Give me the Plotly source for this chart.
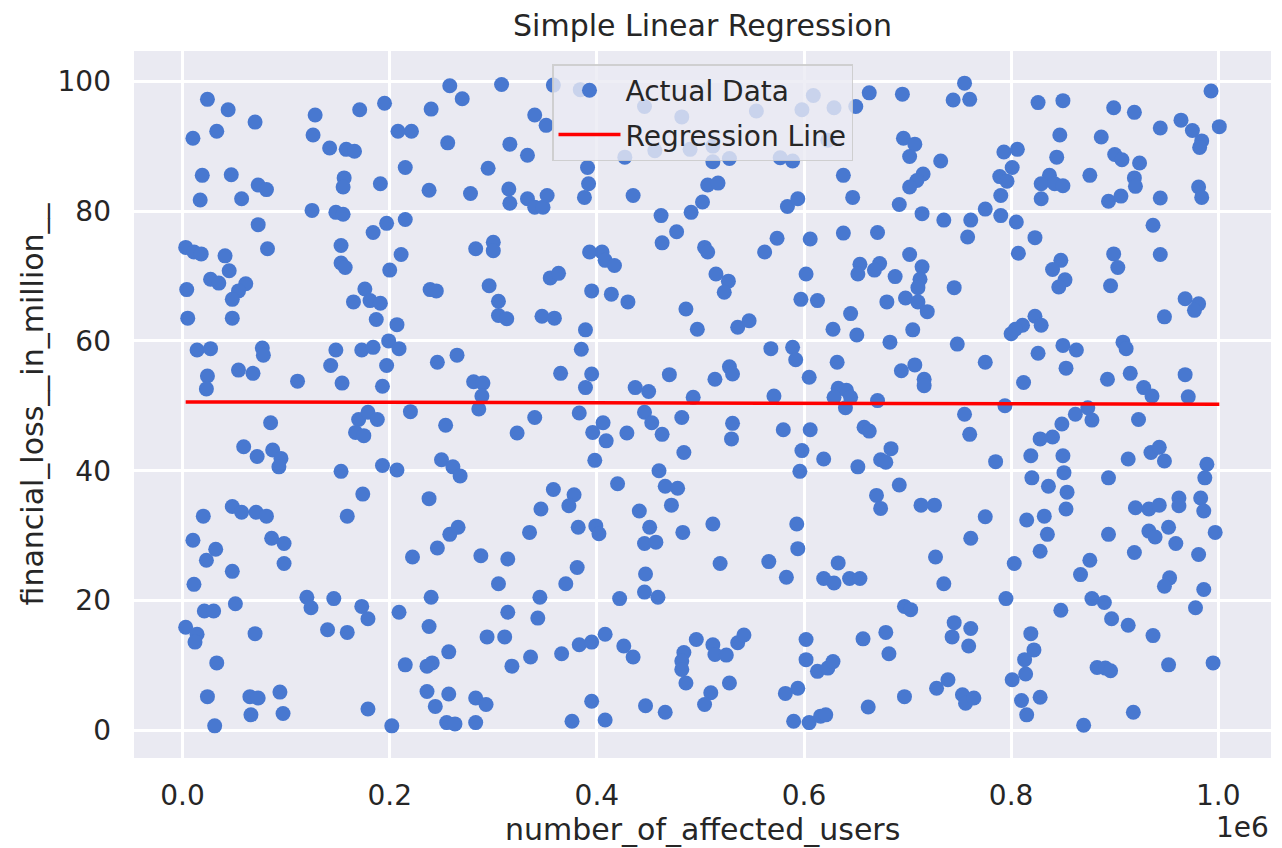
import numpy as np
import plotly.graph_objects as go

# number_of_affected_users in units of 1e6, financial_loss__in_million__
users_e6 = [
    0.024,0.044,0.070,0.033,0.010,0.128,0.126,0.171,0.195,0.142,0.158,0.166,0.208,0.221,0.019,0.047,0.017,0.057,0.073,0.081,0.156,0.155,0.191,0.215,0.125,0.148,0.155,0.073,0.184,0.197,0.215,0.003,0.011,0.018,0.041,0.082,0.045,0.027,0.035,0.061,0.054,0.004,0.153,0.153,0.157,0.211,0.200,0.176,
    0.048,0.005,0.048,0.165,0.181,0.191,0.187,0.207,0.014,0.027,0.077,0.078,0.148,0.173,0.184,0.199,0.209,0.143,0.197,0.054,0.068,0.024,0.023,0.111,0.154,0.193,0.220,0.085,0.170,0.179,0.188,0.167,0.175,0.059,0.072,0.087,0.095,0.093,0.153,0.193,0.207,0.174,0.020,0.048,0.057,0.071,0.081,0.159,
    0.010,0.032,0.023,0.048,0.086,0.098,0.098,0.011,0.222,0.051,0.021,0.030,0.003,0.014,0.012,0.070,0.120,0.124,0.146,0.173,0.179,0.140,0.159,0.209,0.033,0.215,0.024,0.065,0.073,0.094,0.066,0.097,0.031,0.179,0.202,
    0.240,0.258,0.270,0.308,0.384,0.358,0.340,0.351,0.446,0.482,0.427,0.456,0.490,0.256,0.316,0.333,0.295,0.391,0.392,0.388,0.435,0.238,0.278,0.315,0.316,0.333,0.340,0.348,0.352,0.462,0.491,0.477,0.463,0.283,0.300,0.300,0.393,0.405,0.408,0.417,0.355,0.363,0.239,0.245,0.296,0.395,0.414,
    0.305,0.305,0.313,0.347,0.359,0.430,0.486,0.497,0.389,0.385,0.246,0.265,0.365,0.395,0.389,0.470,0.437,0.450,0.281,0.290,0.289,0.286,0.493,0.446,0.453,0.463,0.482,0.484,0.383,0.406,0.396,0.409,0.429,0.398,0.254,0.323,0.340,0.250,0.261,0.268,0.238,0.460,0.466,0.478,0.472,0.441,0.420,0.358,0.378,0.373,0.346,
    0.258,0.266,0.246,0.335,0.382,0.399,0.402,0.451,0.446,0.457,0.483,0.288,0.314,0.305,0.381,0.370,0.447,0.446,0.459,0.422,0.240,0.345,0.343,0.314,0.238,0.294,0.311,0.257,0.241,0.236,0.318,0.336,0.366,0.383,0.395,0.408,0.426,0.435,0.496,0.484,0.482,0.482,0.486,0.236,0.244,0.257,0.283,0.293,0.255,0.263,0.283,0.395,0.376,0.408,0.447,0.466,
    0.554,0.598,0.609,0.629,0.650,0.663,0.695,0.755,0.744,0.760,0.512,0.623,0.512,0.528,0.577,0.589,0.696,0.707,0.702,0.732,0.638,0.647,0.507,0.517,0.502,0.584,0.594,0.715,0.709,0.702,0.692,0.714,0.735,0.761,0.758,0.638,0.671,0.606,0.574,0.562,0.504,0.507,0.515,0.527,0.523,0.602,0.654,0.652,0.673,0.668,0.688,0.702,0.714,0.712,0.710,0.745,
    0.597,0.613,0.680,0.698,0.710,0.719,0.645,0.628,0.651,0.705,0.683,0.748,0.536,0.547,0.568,0.589,0.592,0.632,0.528,0.531,0.514,0.605,0.694,0.707,0.716,0.716,0.571,0.633,0.641,0.629,0.645,0.640,0.671,0.755,0.760,0.531,0.530,0.580,0.606,0.658,0.663,0.598,0.619,0.596,0.652,0.684,0.674,0.679,0.692,0.670,0.674,0.713,0.726,
    0.512,0.593,0.594,0.519,0.566,0.583,0.633,0.619,0.629,0.644,0.654,0.727,0.735,0.761,0.697,0.703,0.512,0.514,0.525,0.536,0.542,0.602,0.602,0.613,0.623,0.628,0.657,0.679,0.682,0.745,0.743,0.761,0.759,0.528,0.510,0.504,0.582,0.594,0.590,0.605,0.616,0.621,0.662,0.697,0.728,0.739,0.753,0.756,0.764,
    0.826,0.850,0.899,0.919,0.993,0.944,0.964,0.975,0.984,0.982,1.001,0.847,0.887,0.793,0.806,0.844,0.900,0.907,0.924,0.801,0.789,0.796,0.790,0.837,0.829,0.842,0.850,0.829,0.876,0.919,0.920,0.894,0.906,0.944,0.981,0.984,0.775,0.790,0.805,0.823,0.807,0.937,0.944,0.899,0.903,0.896,0.848,0.840,0.852,0.846,
    0.968,0.981,0.977,0.948,0.800,0.811,0.823,0.829,0.804,0.850,0.863,0.826,0.853,0.908,0.911,0.775,0.812,0.893,0.915,0.928,0.936,0.968,0.971,0.794,0.874,0.862,0.878,0.849,0.840,0.828,0.923,0.819,0.850,0.851,0.785,0.820,0.836,0.854,0.894,0.913,0.935,0.943,0.948,0.989,0.987,0.983,0.986,0.962,0.962,0.920,0.933,0.943,0.853,0.832,0.815,0.775,
    0.835,0.828,0.803,0.894,0.933,0.939,0.952,0.959,0.919,0.981,0.997,0.876,0.867,0.953,0.948,0.986,0.978,0.795,0.848,0.878,0.890,0.897,0.913,0.937,0.819,0.822,0.813,0.814,0.801,0.810,0.815,0.828,0.883,0.891,0.896,0.952,0.995,0.918,0.870,
]
financial_loss = [
    97.2,95.6,93.7,92.3,91.2,94.8,91.7,95.6,96.6,89.7,89.5,89.2,92.3,92.3,85.5,85.6,81.7,81.9,84.0,83.3,85.1,83.7,84.2,86.7,80.1,79.8,79.5,77.9,76.7,78.1,78.7,74.4,73.7,73.4,73.1,74.2,70.8,69.5,68.9,68.8,67.7,67.9,74.7,72.0,71.3,73.3,70.9,68.0,
    66.4,63.5,63.5,66.0,66.2,65.8,63.3,62.5,58.6,58.8,58.9,57.8,58.6,58.6,59.0,60.0,58.8,56.2,56.2,55.5,55.0,54.6,52.6,53.8,53.5,53.0,49.1,47.4,47.9,49.0,47.9,45.9,45.4,43.7,42.2,43.2,41.9,40.6,39.9,40.8,40.1,36.4,33.0,34.5,33.6,33.6,33.0,33.0,
    29.3,27.9,26.2,24.5,29.6,28.8,25.7,22.5,26.7,19.5,18.4,18.4,15.9,14.8,13.6,14.9,20.5,18.9,20.3,19.1,17.2,15.5,15.1,18.2,10.4,10.1,5.2,5.2,5.0,5.9,2.4,2.6,0.7,3.3,0.7,
    95.7,99.3,97.3,99.5,98.7,99.4,94.8,93.2,96.1,94.5,88.3,89.3,89.5,90.5,90.3,88.6,86.6,86.7,84.2,82.1,82.4,83.2,82.7,83.4,81.2,81.9,80.6,80.6,82.4,79.3,79.8,76.8,75.1,74.2,75.2,73.9,73.7,73.7,72.4,71.6,69.7,70.4,67.9,67.7,68.5,67.7,67.2,
    66.1,63.9,63.4,63.8,63.5,66.0,64.9,61.8,61.7,58.7,56.7,57.8,55.0,54.9,52.8,54.8,52.8,52.2,53.7,53.5,51.5,49.5,51.3,49.0,47.4,45.6,48.2,42.8,48.9,47.4,45.9,44.6,45.8,41.6,47.0,45.8,48.2,41.7,40.6,39.2,35.7,40.0,37.6,37.3,34.7,33.8,38.0,37.1,36.3,34.6,34.1,
    30.2,31.3,28.1,30.5,31.3,31.5,30.3,31.3,28.8,29.0,30.5,26.9,26.4,22.6,25.1,22.6,24.1,21.3,20.5,20.3,20.5,20.5,17.3,18.2,16.0,14.4,14.4,12.1,10.4,9.9,9.9,11.3,11.8,13.2,13.6,14.8,13.0,11.3,14.0,12.0,10.7,9.4,7.3,6.0,3.7,5.6,5.0,4.0,1.2,1.0,1.2,4.5,1.4,1.6,3.8,2.8,
    95.4,95.6,97.8,95.9,96.1,98.2,98.0,99.7,97.1,97.2,90.0,90.9,87.6,88.1,88.2,87.7,91.2,90.3,88.4,87.7,85.5,82.1,84.0,84.3,81.4,80.7,81.9,85.7,84.7,83.7,81.0,79.6,78.6,78.6,76.0,76.6,76.7,75.7,75.8,73.7,74.4,73.7,70.3,69.2,67.5,70.3,71.8,70.3,71.9,70.9,69.9,73.3,71.4,69.5,68.2,68.2,
    66.4,66.2,66.0,66.6,66.0,64.5,64.2,61.8,60.9,61.7,59.8,59.5,62.1,63.1,58.8,59.0,57.1,56.7,56.0,54.9,54.1,54.4,55.4,56.3,54.1,53.1,51.5,52.7,52.4,51.3,51.3,49.7,50.8,48.7,45.6,47.3,44.9,46.3,46.3,46.7,46.1,43.1,41.8,39.9,40.6,43.4,41.7,41.3,37.8,36.2,34.2,34.7,34.7,
    31.8,31.8,28.0,25.7,26.0,23.6,25.8,23.4,22.7,23.4,23.4,26.7,22.6,29.6,19.1,18.6,13.2,11.7,11.6,13.5,14.7,14.0,10.9,9.1,9.6,10.6,14.1,15.1,11.8,16.6,14.4,15.7,13.0,7.3,5.8,4.0,5.7,6.5,1.4,1.2,2.2,2.4,3.6,5.2,6.5,7.8,5.5,4.2,5.0,
    96.7,97.0,95.9,95.2,98.5,92.8,94.0,92.4,90.8,89.8,93.0,91.7,91.4,89.1,89.5,88.3,88.7,87.9,87.4,86.7,85.3,84.6,82.4,85.5,84.2,84.2,83.9,81.9,85.5,85.1,83.8,81.5,82.3,82.0,83.7,82.1,80.3,79.3,78.3,75.9,73.5,77.8,73.3,73.4,71.3,68.5,72.4,71.0,69.4,68.3,
    66.5,65.7,64.7,63.7,61.1,62.4,63.8,62.4,61.8,59.3,58.6,58.1,55.8,59.8,58.8,56.7,53.6,54.1,55.0,52.8,51.5,54.8,51.4,50.0,49.7,48.7,47.8,47.2,45.2,44.9,47.9,42.3,42.3,39.7,41.4,38.9,37.6,36.7,38.9,41.8,42.8,43.6,41.5,41.0,38.9,35.8,33.8,35.8,34.6,34.3,34.1,34.7,34.1,33.0,32.4,32.9,
    30.2,27.6,25.7,30.2,30.7,29.8,31.3,28.8,27.4,27.1,30.5,26.2,24.0,23.5,22.2,21.7,18.9,20.3,18.5,20.3,19.7,17.2,16.2,14.6,14.9,12.4,10.9,8.7,7.8,4.6,2.4,5.1,9.7,9.6,9.2,10.1,10.4,2.8,0.8,
]

# fitted regression coefficients (loss in million vs users in millions)
reg_intercept = 50.6
reg_slope_per_million = -0.35

x_tick_vals_e6 = [0.0, 0.2, 0.4, 0.6, 0.8, 1.0]
x_tick_text = ["0.0", "0.2", "0.4", "0.6", "0.8", "1.0"]
y_tick_vals = [0, 20, 40, 60, 80, 100]

users = np.array(users_e6) * 1e6
loss = np.array(financial_loss)
line_x = np.array([users.min(), users.max()])
line_y = reg_intercept + reg_slope_per_million * line_x / 1e6

def padded(lo, hi, m=0.05):
    d = hi - lo
    return [lo - m * d, hi + m * d]

TXT = "#262626"
FONT = "DejaVu Sans"

fig = go.Figure()
fig.add_trace(go.Scatter(
    x=users, y=loss, mode="markers", name="Actual Data", legendgroup="a",
    marker=dict(size=15, color="#4878D0", line=dict(width=0)),
))
fig.add_trace(go.Scatter(
    x=line_x, y=line_y, mode="lines", name="Regression Line", legendgroup="b",
    line=dict(color="red", width=3.5),
))

fig.update_layout(
    width=1282, height=848,
    margin=dict(l=134, r=11, t=51, b=90),
    paper_bgcolor="white", plot_bgcolor="#EAEAF2",
    font=dict(family=FONT, color=TXT, size=28),
    title=dict(text="Simple Linear Regression", x=0.5, xref="paper", xanchor="center",
               y=1 - 25 / 848, yref="container", yanchor="middle",
               font=dict(size=30, color=TXT, family=FONT)),
    showlegend=True,
    legend=dict(x=0.5, xanchor="center", y=1 - 13 / 706.5, yanchor="top",
                bgcolor="rgba(234,234,242,0.8)", bordercolor="rgba(204,204,204,0.9)",
                borderwidth=1.5, font=dict(size=28, color=TXT, family=FONT),
                itemwidth=62, tracegroupgap=5),
)
fig.update_xaxes(
    range=padded(users.min(), users.max()),
    tickvals=[v * 1e6 for v in x_tick_vals_e6], ticktext=x_tick_text,
    showgrid=True, gridcolor="white", gridwidth=2.5, zeroline=False,
    showline=False, ticks="", ticklabelstandoff=18,
    tickfont=dict(size=28, color=TXT, family=FONT),
)
fig.update_yaxes(
    range=padded(loss.min(), loss.max()),
    tickvals=y_tick_vals,
    showgrid=True, gridcolor="white", gridwidth=2.5, zeroline=False,
    showline=False, ticks="", ticklabelstandoff=22,
    tickfont=dict(size=28, color=TXT, family=FONT),
)
fig.add_annotation(text="number_of_affected_users", xref="paper", yref="paper",
                   x=0.5, y=-(829 - 757.5) / 706.5, xanchor="center", yanchor="middle",
                   showarrow=False, font=dict(size=30, color=TXT, family=FONT))
fig.add_annotation(text="financial_loss__in_million__", xref="paper", yref="paper",
                   x=-(134 - 32) / 1137, y=0.5, xanchor="center", yanchor="middle",
                   textangle=-90, showarrow=False, font=dict(size=30, color=TXT, family=FONT))
fig.add_annotation(text="1e6", xref="paper", yref="paper",
                   x=1, y=-(827 - 757.5) / 706.5, xanchor="right", yanchor="middle",
                   showarrow=False, font=dict(size=28, color=TXT, family=FONT))

fig.write_html("out.html")
